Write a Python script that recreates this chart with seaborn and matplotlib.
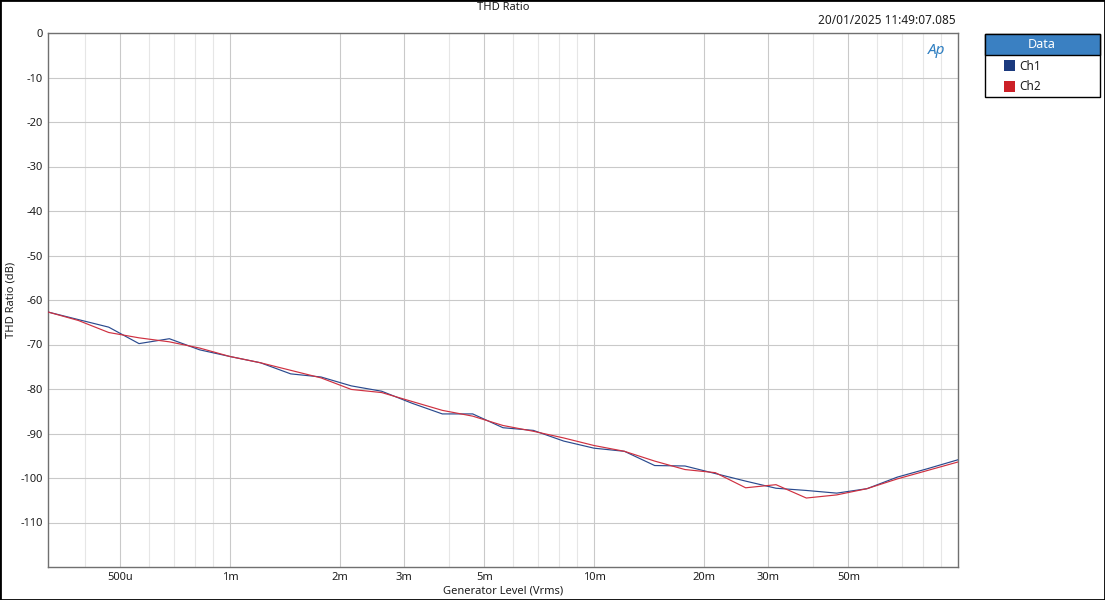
import pandas as pd
import matplotlib
matplotlib.use("Agg")
import matplotlib.pyplot as plt
import matplotlib.ticker as mticker
from matplotlib.patches import Rectangle
import seaborn as sns

# generator sweep (Vrms) and THD ratio readings (dB)
levels = [316.2e-6, 383.1e-6, 464.2e-6, 562.3e-6, 681.3e-6, 825.4e-6,
          1.000e-3, 1.212e-3, 1.468e-3, 1.778e-3, 2.154e-3, 2.610e-3,
          3.162e-3, 3.831e-3, 4.642e-3, 5.623e-3, 6.813e-3, 8.254e-3,
          10.00e-3, 12.12e-3, 14.68e-3, 17.78e-3, 21.54e-3, 26.10e-3,
          31.62e-3, 38.31e-3, 46.42e-3, 56.23e-3, 68.13e-3, 82.54e-3,
          100.0e-3]
ch1 = [-62.7, -64.4, -66.1, -69.8, -68.7, -71.2,
       -72.7, -74.1, -76.6, -77.3, -79.3, -80.5,
       -83.2, -85.6, -85.6, -88.7, -89.3, -91.7,
       -93.3, -94.0, -97.2, -97.3, -99.0, -100.7,
       -102.3, -102.8, -103.4, -102.4, -99.8, -97.9,
       -95.9]
ch2 = [-62.7, -64.6, -67.3, -68.5, -69.4, -70.8,
       -72.7, -74.1, -75.8, -77.5, -80.1, -80.8,
       -82.8, -84.8, -86.1, -88.2, -89.5, -91.0,
       -92.7, -94.0, -96.2, -98.1, -98.8, -102.2,
       -101.5, -104.5, -103.8, -102.4, -100.2, -98.3,
       -96.4]
channels = ["Ch1", "Ch2"]
channelColors = {"Ch1": "#2a4a8e", "Ch2": "#cf3040"}
legendColors = {"Ch1": "#1b3a7e", "Ch2": "#cc2027"}

majorTicks = [500e-6, 1e-3, 2e-3, 3e-3, 5e-3, 10e-3, 20e-3, 30e-3, 50e-3]
majorLabels = ["500u", "1m", "2m", "3m", "5m", "10m", "20m", "30m", "50m"]
minorTicks = [400e-6, 600e-6, 700e-6, 800e-6, 900e-6,
              4e-3, 6e-3, 7e-3, 8e-3, 9e-3,
              40e-3, 60e-3, 70e-3, 80e-3, 90e-3]
yTicks = [0, -10, -20, -30, -40, -50, -60, -70, -80, -90, -100, -110]

sns.set_style("white")
plt.rcParams['font.family'] = ['Noto Sans', 'DejaVu Sans']

W, H = 1105, 600
fig = plt.figure(figsize=(W / 100, H / 100), dpi=100)
ax = fig.add_axes([48 / W, 1 - 567 / H, (958 - 48) / W, (567 - 33) / H])

dataFrame = pd.DataFrame({
    "Level": levels * 2,
    "THD": ch1 + ch2,
    "Channel": ["Ch1"] * len(levels) + ["Ch2"] * len(levels),
})

ax.set_xscale("log")
sns.lineplot(data=dataFrame, x="Level", y="THD", hue="Channel", hue_order=channels,
             palette=channelColors, linewidth=0.85, estimator=None, sort=True,
             legend=False, ax=ax, zorder=3)

ax.set_xlim(316.2e-6, 100e-3)
ax.set_ylim(-120, 0)
ax.xaxis.set_major_locator(mticker.FixedLocator(majorTicks))
ax.xaxis.set_major_formatter(mticker.FixedFormatter(majorLabels))
ax.xaxis.set_minor_locator(mticker.FixedLocator(minorTicks))
ax.xaxis.set_minor_formatter(mticker.NullFormatter())
ax.set_yticks(yTicks)
ax.set_yticklabels([str(t) for t in yTicks])

ax.grid(which="major", color="#c9c9c9", linewidth=0.8)
ax.grid(which="minor", axis="x", color="#e6e6e6", linewidth=0.8)
ax.set_axisbelow(True)
for s in ax.spines.values():
    s.set_color("#707070")
    s.set_linewidth(1.0)
ax.tick_params(which="both", length=0, labelsize=8, colors="#1e1e1e")
ax.tick_params(axis="x", pad=3.5)
ax.tick_params(axis="y", pad=4)
ax.set_xlabel("")
ax.set_ylabel("")

fig.text(503 / W, 1 - 7 / H, "THD Ratio", ha="center", va="center", fontsize=8, color="#1e1e1e")
fig.text(503 / W, 1 - 591 / H, "Generator Level (Vrms)", ha="center", va="center", fontsize=8, color="#1e1e1e")
fig.text(11 / W, 0.5, "THD Ratio (dB)", ha="center", va="center", rotation=90, fontsize=8, color="#1e1e1e")
fig.text(956 / W, 1 - 21 / H, "20/01/2025 11:49:07.085", ha="right", va="center", fontsize=8.5, color="#1e1e1e")
fig.text(937 / W, 1 - 50 / H, "Ap", ha="center", va="center", fontsize=11, fontweight="bold",
         fontstyle="italic", color="#2f7fc1")

# legend panel
fig.add_artist(Rectangle((985 / W, 1 - 97 / H), 115 / W, 63 / H, transform=fig.transFigure,
                         facecolor="white", edgecolor="black", linewidth=1.0))
fig.add_artist(Rectangle((985 / W, 1 - 55 / H), 115 / W, 21 / H, transform=fig.transFigure,
                         facecolor="#3a80c2", edgecolor="black", linewidth=1.0))
fig.text(1042 / W, 1 - 45 / H, "Data", ha="center", va="center", fontsize=9, fontweight="bold", color="white")
for i, ch in enumerate(channels):
    cy = 66 + 21 * i
    fig.add_artist(Rectangle((1004 / W, 1 - (cy + 5) / H), 11 / W, 11 / H, transform=fig.transFigure,
                             facecolor=legendColors[ch], edgecolor="none"))
    fig.text(1019 / W, 1 - cy / H, ch, ha="left", va="center", fontsize=8.5, color="#1e1e1e")

# outer frame
fig.add_artist(Rectangle((0, 0), 1, 1, transform=fig.transFigure, facecolor="none",
                         edgecolor="black", linewidth=2.0))

plt.savefig("out.png", dpi=100)
plt.close("all")
